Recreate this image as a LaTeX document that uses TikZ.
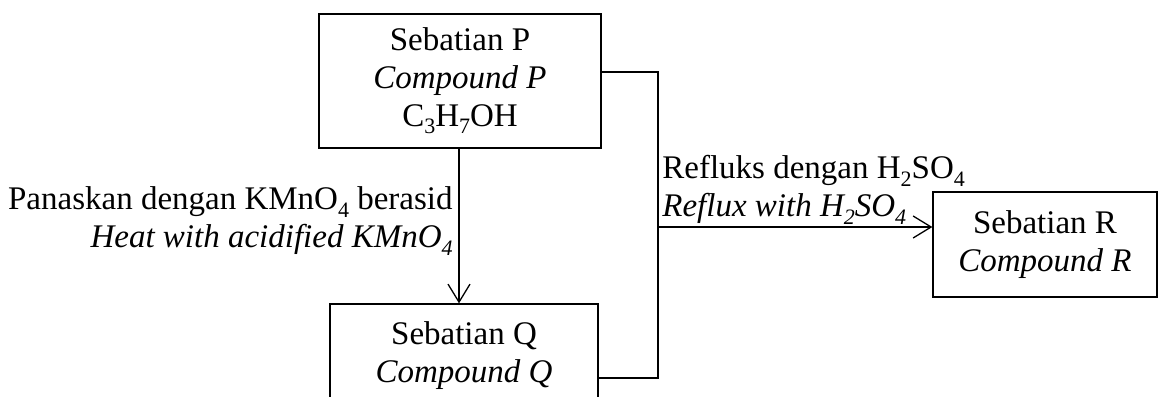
\documentclass[tikz,border=0pt]{standalone}
\usepackage{fontspec}
\setmainfont{Liberation Serif}
\usetikzlibrary{arrows.meta}
\newcommand\chsub[1]{\raisebox{-0.22em}{\fontsize{11pt}{11pt}\selectfont #1}}
\begin{document}
\begin{tikzpicture}[x=0.5pt,y=-0.5pt,
  every node/.style={font=\fontsize{16.5pt}{19pt}\selectfont, inner sep=0pt},
  cbox/.style={draw, line width=0.65pt, align=center, minimum width=#1},
  conn/.style={line width=0.65pt},
  arr/.style={conn, -{Straight Barb[length=9pt,width=11pt,line width=0.65pt]}}]
\useasboundingbox (0,0) rectangle (1159,396);
\node[cbox=141pt, minimum height=67pt] (P) at (460,81)
  {Sebatian P\\ \textit{Compound P}\\ C\chsub{3}H\chsub{7}OH};
\node[cbox=134pt, minimum height=52pt] (Q) at (464,356)
  {Sebatian Q\\ \textit{Compound Q}};
\node[cbox=112pt, minimum height=52.5pt] (R) at (1045,244.5)
  {Sebatian R\\ \textit{Compound R}};
\coordinate (J1) at (658,72);
\coordinate (J2) at (658,378);
\coordinate (J3) at (658,227);
\draw[conn] (P.east |- J1) -- (J1) -- (J2) -- (Q.east |- J2);
\draw[arr] (J3) -- (R.west |- J3);
\draw[arr] (459,148) coordinate (PB) -- (PB |- Q.north);
\node[anchor=east, align=right] (L1) at (453,221)
  {Panaskan dengan KMnO\chsub{4} berasid\\ \textit{Heat with acidified KMnO\chsub{4}}};
\node[anchor=west, align=left] (L2) at (662,190)
  {Refluks dengan H\chsub{2}SO\chsub{4}\\ \textit{Reflux with H\chsub{2}SO\chsub{4}}};
\end{tikzpicture}
\end{document}
